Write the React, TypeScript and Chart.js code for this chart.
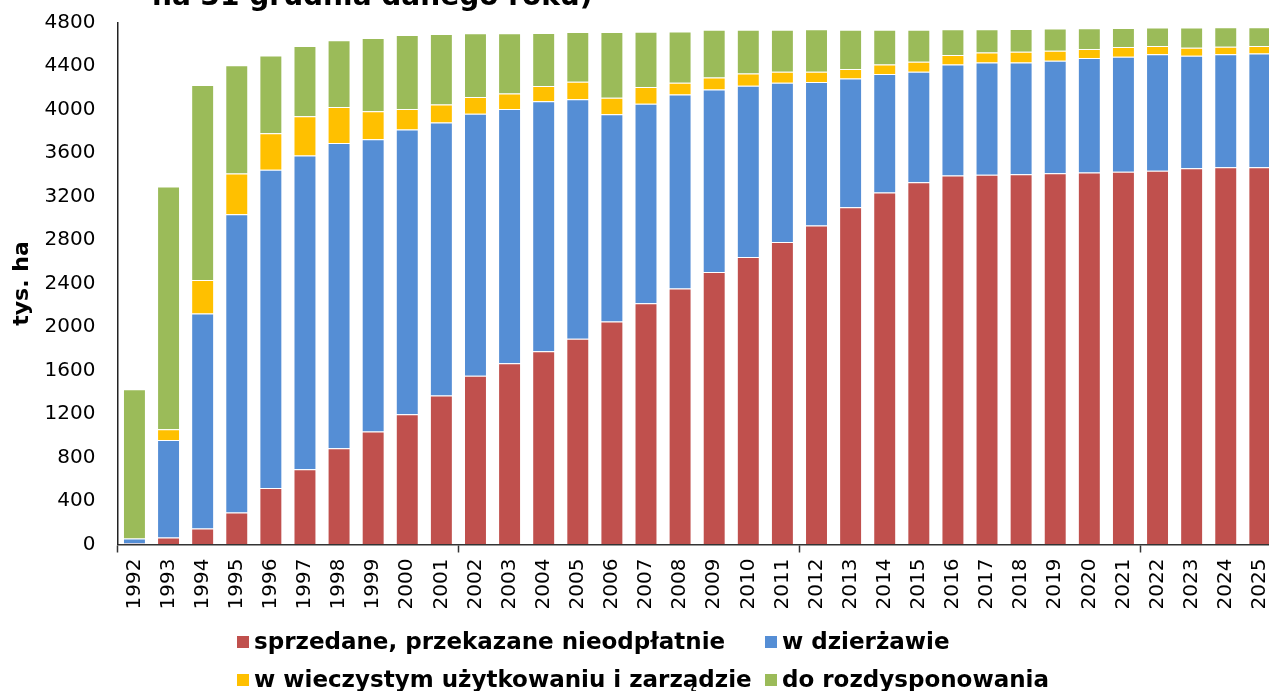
import React, { useEffect, useRef } from "react";
import { Chart, registerables } from "chart.js";

Chart.register(...registerables);

const years = [
  "1992", "1993", "1994", "1995", "1996", "1997", "1998", "1999", "2000", "2001",
  "2002", "2003", "2004", "2005", "2006", "2007", "2008", "2009", "2010", "2011",
  "2012", "2013", "2014", "2015", "2016", "2017", "2018", "2019", "2020", "2021",
  "2022", "2023", "2024", "2025",
];

const sold = [
  10, 64, 146, 294, 520, 692, 886, 1040, 1197, 1371,
  1552, 1667, 1778, 1893, 2051, 2219, 2353, 2505, 2643, 2781,
  2934, 3102, 3237, 3332, 3394, 3401, 3404, 3414, 3421, 3427,
  3437, 3460, 3470, 3470,
];

const leased = [
  45, 897, 1977, 2742, 2927, 2886, 2807, 2686, 2618, 2509,
  2408, 2338, 2299, 2201, 1905, 1835, 1784, 1678, 1576, 1464,
  1318, 1182, 1090, 1015, 1019, 1031, 1028, 1035, 1053, 1058,
  1071, 1035, 1038, 1044,
];

const perpetual = [
  0, 98, 309, 375, 335, 359, 329, 259, 190, 165,
  154, 141, 138, 161, 151, 152, 108, 111, 111, 102,
  95, 89, 86, 92, 88, 92, 99, 92, 83, 89,
  75, 72, 69, 69,
];

const available = [
  1372, 2234, 1793, 995, 715, 646, 614, 673, 680, 650,
  588, 556, 489, 457, 605, 508, 473, 440, 404, 387,
  390, 361, 321, 295, 236, 213, 210, 203, 190, 176,
  171, 187, 180, 174,
];

const seriesLabels = [
  "sprzedane, przekazane nieodpłatnie",
  "w dzierżawie",
  "w wieczystym użytkowaniu i zarządzie",
  "do rozdysponowania",
];
const seriesColors = ["#C0504D", "#558ED5", "#FFC000", "#9BBB59"];

const yTicks = { min: 0, max: 4800, step: 400 };
const yTitle = "tys. ha";
const titleText = "na 31 grudnia danego roku)";

const FONT = "'DejaVu Sans', Verdana, sans-serif";

const titlePlugin = {
  id: "croppedTitle",
  afterDraw(chart: any) {
    const ctx = chart.ctx;
    ctx.save();
    ctx.font = `bold 28px ${FONT}`;
    ctx.fillStyle = "#000";
    ctx.textAlign = "left";
    ctx.textBaseline = "alphabetic";
    ctx.fillText(titleText, 152, 5);
    ctx.restore();
  },
};

const legendPlugin = {
  id: "gridLegend",
  afterDraw(chart: any) {
    const ctx = chart.ctx;
    const cols = [237, 765];
    const rows = [642, 680];
    ctx.save();
    ctx.font = `bold 23px ${FONT}`;
    ctx.textBaseline = "middle";
    ctx.textAlign = "left";
    chart.data.datasets.forEach((ds: any, i: number) => {
      const x = cols[i % 2];
      const y = rows[Math.floor(i / 2)];
      ctx.fillStyle = ds.backgroundColor;
      ctx.fillRect(x, y - 6, 12, 12);
      ctx.fillStyle = "#000";
      ctx.fillText(ds.label, x + 17, y + 1);
    });
    ctx.restore();
  },
};

export default function App() {
  const canvasRef = useRef<HTMLCanvasElement | null>(null);

  useEffect(() => {
    const canvas = canvasRef.current;
    if (!canvas) return;
    const dataSets = [sold, leased, perpetual, available];
    const chart = new Chart(canvas, {
      type: "bar",
      data: {
        labels: years,
        datasets: dataSets.map((d, i) => ({
          label: seriesLabels[i],
          data: d,
          backgroundColor: seriesColors[i],
          borderColor: "rgba(255,255,255,0.35)",
          borderWidth: 1,
          categoryPercentage: 1,
          barPercentage: 0.673,
        })),
      },
      options: {
        responsive: false,
        animation: false,
        devicePixelRatio: 1,
        layout: { padding: { top: 22.5, left: 0, right: 10.4, bottom: 76.5 } },
        plugins: {
          legend: { display: false },
          tooltip: { enabled: false },
          title: { display: false },
        },
        scales: {
          x: {
            stacked: true,
            grid: {
              display: true,
              drawOnChartArea: false,
              drawTicks: true,
              tickLength: 8,
              tickWidth: 1.5,
              tickColor: (ctx: any) => (ctx.index % 10 === 0 ? "#333" : "rgba(0,0,0,0)"),
            },
            border: { display: true, color: "#333", width: 1.5 },
            ticks: {
              autoSkip: false,
              minRotation: 90,
              maxRotation: 90,
              padding: 6,
              color: "#000",
              font: { family: FONT, size: 20 },
            },
            afterFit: (scale: any) => {
              scale.height = 70;
            },
          },
          y: {
            stacked: true,
            min: yTicks.min,
            max: yTicks.max,
            grid: {
              display: true,
              drawOnChartArea: false,
              drawTicks: true,
              tickLength: 22,
              tickColor: "rgba(0,0,0,0)",
            },
            border: { display: true, color: "#222", width: 1.5 },
            ticks: {
              stepSize: yTicks.step,
              padding: 0,
              color: "#000",
              font: { family: FONT, size: 20 },
              callback: (v: any) => String(v),
            },
            title: {
              display: true,
              text: yTitle,
              color: "#000",
              font: { family: FONT, size: 22, weight: "bold" },
              padding: { top: 9, bottom: 0 },
            },
            afterFit: (scale: any) => {
              scale.width = 117.4;
            },
          },
        },
      },
      plugins: [titlePlugin, legendPlugin],
    } as any);
    return () => chart.destroy();
  }, []);

  return (
    <div
      style={{
        position: "fixed",
        left: 0,
        top: 0,
        width: 1269,
        height: 691,
        overflow: "hidden",
        background: "#fff",
      }}
    >
      <canvas
        ref={canvasRef}
        width={1290}
        height={691}
        style={{ display: "block", width: 1290, height: 691 }}
      />
    </div>
  );
}
